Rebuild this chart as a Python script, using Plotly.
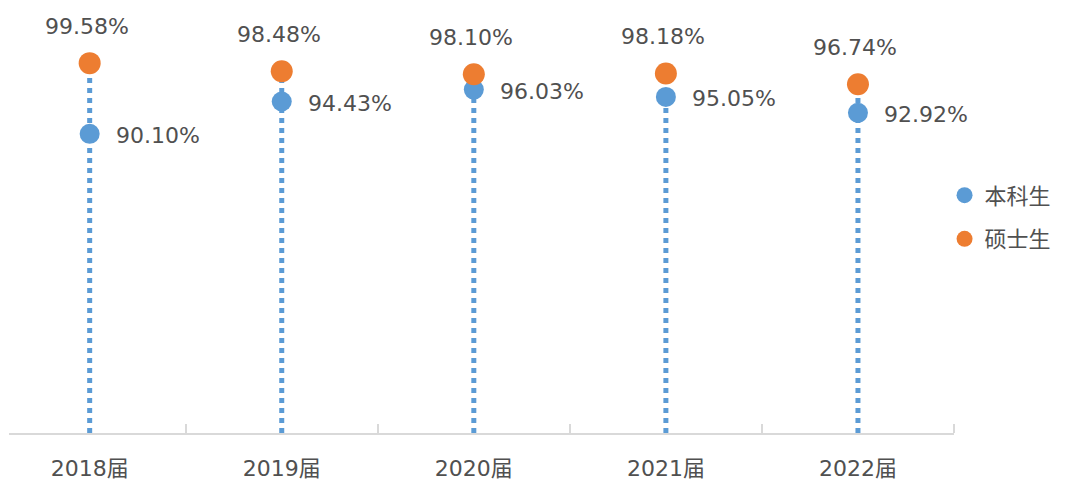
import plotly.graph_objects as go

categories = ["2018届", "2019届", "2020届", "2021届", "2022届"]
undergrad = [90.10, 94.43, 96.03, 95.05, 92.92]
master = [99.58, 98.48, 98.10, 98.18, 96.74]
undergrad_labels = ["90.10%", "94.43%", "96.03%", "95.05%", "92.92%"]
master_labels = ["99.58%", "98.48%", "98.10%", "98.18%", "96.74%"]
y_min, y_max = 50, 100

BLUE = "#5B9BD5"
ORANGE = "#ED7D31"
TEXT = "#505050"
FONT = "DejaVu Sans, Noto Sans CJK SC, sans-serif"

xs = list(range(len(categories)))

# drop lines from axis up to the master value
line_x, line_y = [], []
for i, v in zip(xs, master):
    line_x += [i, i, None]
    line_y += [y_min, v, None]

fig = go.Figure()
fig.add_trace(go.Scatter(
    x=line_x, y=line_y, mode="lines",
    line=dict(color=BLUE, width=5, dash="5px,5px"),
    showlegend=False, hoverinfo="skip", cliponaxis=False,
))
fig.add_trace(go.Scatter(
    x=xs, y=undergrad, mode="markers", name="本科生", legendgroup="a",
    marker=dict(color=BLUE, size=20), cliponaxis=False,
))
fig.add_trace(go.Scatter(
    x=xs, y=master, mode="markers", name="硕士生", legendgroup="b",
    marker=dict(color=ORANGE, size=22), cliponaxis=False,
))

annotations = []
for i, v, t in zip(xs, master, master_labels):
    annotations.append(dict(x=i, y=v, text=t, showarrow=False, xshift=-3, yshift=37,
                            font=dict(family=FONT, size=22, color=TEXT)))
for i, v, t in zip(xs, undergrad, undergrad_labels):
    annotations.append(dict(x=i, y=v, text=t, showarrow=False, xanchor="left", xshift=24, yshift=-2,
                            font=dict(family=FONT, size=22, color=TEXT)))

fig.update_layout(
    width=1065, height=484,
    margin=dict(l=9, r=111, t=60, b=51, autoexpand=False),
    paper_bgcolor="white", plot_bgcolor="white",
    annotations=annotations,
    showlegend=True,
    legend=dict(x=0.99, xanchor="left", y=0.578, yanchor="middle",
                font=dict(family=FONT, size=22, color=TEXT),
                tracegroupgap=12, traceorder="grouped", itemwidth=30),
    xaxis=dict(
        range=[-0.42, 4.5], tickvals=xs, ticktext=categories,
        showgrid=False, zeroline=False,
        showline=True, linecolor="#D9D9D9", linewidth=1.5,
        ticks="", ticklabelstandoff=15,
        tickfont=dict(family=FONT, size=22, color=TEXT),
        minor=dict(tickvals=[0.5, 1.5, 2.5, 3.5, 4.5], ticks="inside", ticklen=9,
                   tickcolor="#D9D9D9", tickwidth=1.5, showgrid=False),
    ),
    yaxis=dict(range=[y_min, y_max], visible=False),
)

fig.write_html("out.html", config={"displayModeBar": False},
               post_script="document.body.style.margin='0px';document.body.style.overflow='hidden';")
